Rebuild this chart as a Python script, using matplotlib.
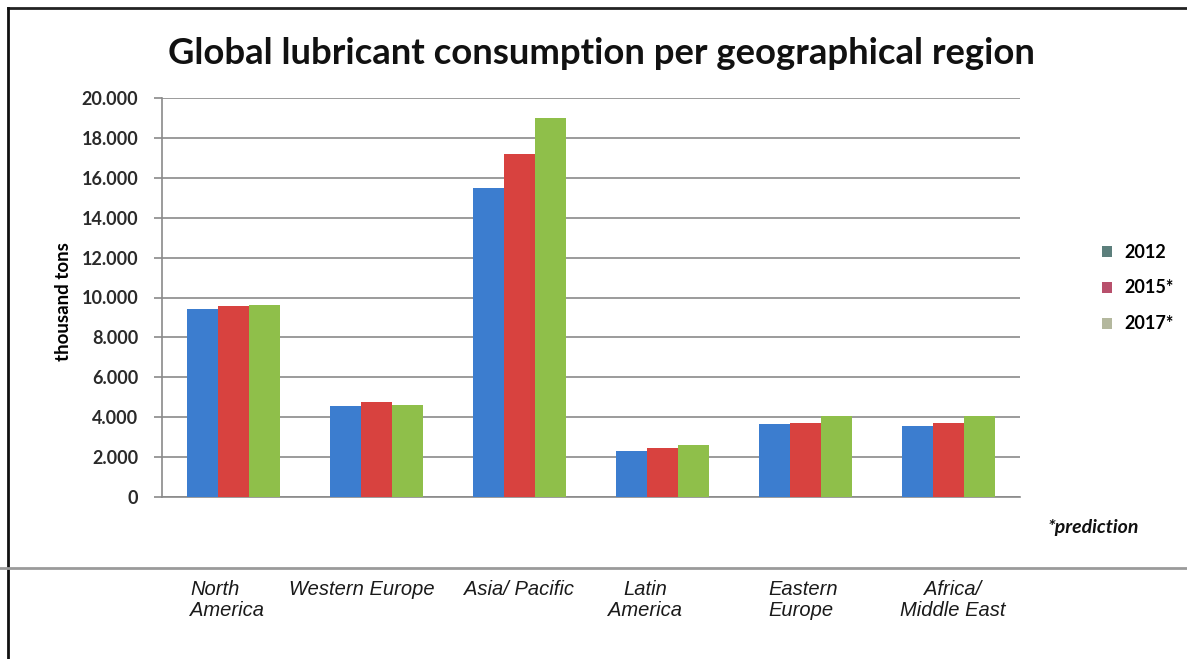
import matplotlib
matplotlib.use("Agg")
import matplotlib.pyplot as plt
from matplotlib.patches import Patch
from matplotlib.lines import Line2D
import numpy as np

# Data (thousand tons)
regions = ["North\nAmerica", "Western Europe", "Asia/ Pacific",
           "Latin\nAmerica", "Eastern\nEurope", "Africa/\nMiddle East"]
series_names = ["2012", "2015*", "2017*"]
v2012 = [9400, 4550, 15500, 2300, 3650, 3580]
v2015 = [9550, 4750, 17200, 2460, 3720, 3720]
v2017 = [9600, 4600, 18980, 2600, 4050, 4080]
yticks = [0, 2000, 4000, 6000, 8000, 10000, 12000, 14000, 16000, 18000, 20000]
ytick_labels = ["0", "2.000", "4.000", "6.000", "8.000", "10.000", "12.000",
                "14.000", "16.000", "18.000", "20.000"]

bar_colors = ["#3c7dcf", "#d8423f", "#8fbf4a"]
legend_colors = ["#5c7f7c", "#b8506c", "#b4b89e"]

W, H = 1187, 659
fig = plt.figure(figsize=(W / 100, H / 100), dpi=100)
fig.patch.set_facecolor("white")

ax = fig.add_axes([162 / W, 1 - 497 / H, (1020 - 162) / W, (497 - 98) / H])
x = np.arange(len(regions))
bw = 0.217
for i, vals in enumerate([v2012, v2015, v2017]):
    ax.bar(x + (i - 1) * bw, vals, width=bw, color=bar_colors[i], zorder=3,
           linewidth=0)

ax.set_xlim(-0.5, len(regions) - 0.5)
ax.set_ylim(0, 20000)
ax.set_yticks(yticks)
ax.set_yticklabels(ytick_labels, fontsize=13, fontweight="bold",
                   color="#2a2a2a", family="Lato")
ax.set_xticks([])
ax.yaxis.grid(True, color="#8a8a8a", linewidth=1.2, zorder=0)
ax.tick_params(axis="y", length=6, color="#8a8a8a", width=1.2, pad=11)
for s in ["top", "right"]:
    ax.spines[s].set_visible(False)
for s in ["left", "bottom"]:
    ax.spines[s].set_color("#8a8a8a")
    ax.spines[s].set_linewidth(1.2)
ax.set_ylabel("thousand tons", fontsize=13.5, fontweight="bold", family="Lato")
ax.yaxis.set_label_coords((72 - 162) / (1020 - 162), 0.49)

fig.text(601 / W, 1 - 53 / H, "Global lubricant consumption per geographical region",
         ha="center", va="center", fontsize=26.3, fontweight="bold",
         family="Lato", color="#111111")

# Category labels below the separator line
label_pos = [(190, "left"), (362, "center"), (519, "center"),
             (645, "center"), (768, "left"), (953, "center")]
for name, (px, ha) in zip(regions, label_pos):
    fig.text(px / W, 1 - 580 / H, name, ha=ha, va="top", fontsize=14.5,
             style="italic", family="Liberation Sans",
             color="#1a1a1a", linespacing=1.15, multialignment=ha)

fig.text(1048 / W, 1 - 528 / H, "*prediction", ha="left", va="center",
         fontsize=14, style="italic", fontweight="bold", family="Lato",
         color="#111111")

handles = [Patch(facecolor=c, edgecolor="none") for c in legend_colors]
fig.legend(handles, series_names, loc="center left",
           bbox_to_anchor=(1086 / W, 1 - 288 / H), frameon=False,
           prop={"family": "Lato", "size": 13, "weight": "bold"},
           handlelength=0.55, handleheight=0.55, handletextpad=0.7,
           labelspacing=1.05)

# Outer frame and separator
fig.add_artist(Line2D([8 / W, 1], [1 - 8 / H, 1 - 8 / H], color="#222222",
                      linewidth=2, transform=fig.transFigure))
fig.add_artist(Line2D([8 / W, 8 / W], [0, 1 - 8 / H], color="#111111",
                      linewidth=2, transform=fig.transFigure))
fig.add_artist(Line2D([0, 1], [1 - 568 / H, 1 - 568 / H], color="#9a9a9a",
                      linewidth=2, transform=fig.transFigure))

fig.savefig("out.png", dpi=100, facecolor="white")
